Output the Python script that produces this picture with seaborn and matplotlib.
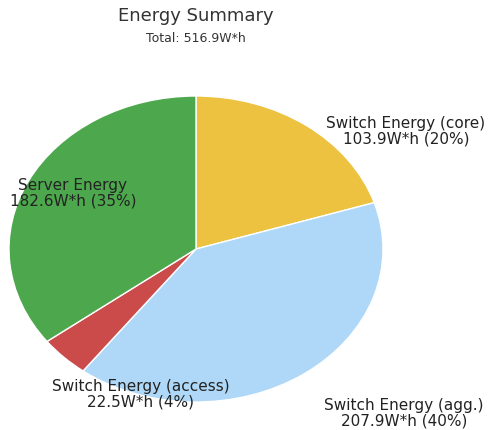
import matplotlib
matplotlib.use("Agg")
import matplotlib.pyplot as plt
import seaborn as sns

# Energy values (W*h)
labels = ["Switch Energy (core)", "Switch Energy (agg.)",
          "Switch Energy (access)", "Server Energy"]
values = [103.9, 207.9, 22.5, 182.6]
colors = ["#edc240", "#afd8f8", "#cb4b4b", "#4da74d"]

total = sum(values)

sns.set_theme(style="white")
plt.rcParams["font.family"] = ["DejaVu Sans"]

W, H = 489, 431
fig = plt.figure(figsize=(W / 100, H / 100), dpi=100)

# pie is stretched into an ellipse: centre (196, 250), radii 187 x 153 px
cx, cy, rx, ry = 196, 250, 187, 153
ax = fig.add_axes([(cx - rx) / W, (H - cy - ry) / H, 2 * rx / W, 2 * ry / H])
ax.pie(values, colors=colors, startangle=90, counterclock=False,
       wedgeprops=dict(edgecolor="white", linewidth=1))
ax.set_aspect("auto")
ax.set_xlim(-1, 1)
ax.set_ylim(-1, 1)
ax.axis("off")

# slice labels (pixel positions of label centres)
label_pos = [(406, 131), (404, 413), (141, 394), (73, 193)]
for name, v, (px, py) in zip(labels, values, label_pos):
    pct = round(v / total * 100)
    fig.text(px / W, 1 - py / H, f"{name}\n{v:.1f}W*h ({pct}%)",
             ha="center", va="center", fontsize=11, color="#222222",
             linespacing=1.05)

fig.text(196 / W, 1 - 16 / H, "Energy Summary", ha="center", va="center",
         fontsize=13, color="#333333")
fig.text(196 / W, 1 - 39 / H, f"Total: {total:.1f}W*h", ha="center",
         va="center", fontsize=9, color="#333333")

fig.savefig("out.png", dpi=100)
